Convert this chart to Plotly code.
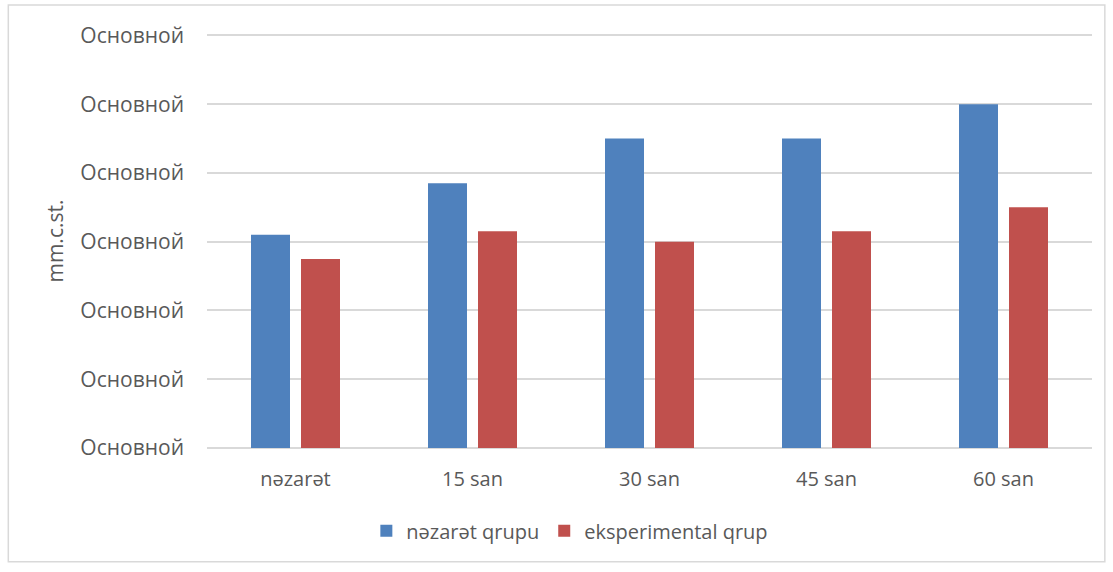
import plotly.graph_objects as go

categories = ["nəzarət", "15 san", "30 san", "45 san", "60 san"]
control_group = [62, 77, 90, 90, 100]
experimental_group = [55, 63, 60, 63, 70]
tick_values = [0, 20, 40, 60, 80, 100, 120]
tick_labels = ["Основной"] * len(tick_values)

font_family = "Open Sans, Noto Sans, sans-serif"
text_color = "#595959"

fig = go.Figure()
fig.add_trace(go.Bar(name="nəzarət qrupu", x=categories, y=control_group,
                     marker=dict(color="#4F81BD", line=dict(width=0))))
fig.add_trace(go.Bar(name="eksperimental qrup", x=categories, y=experimental_group,
                     marker=dict(color="#C0504D", line=dict(width=0))))

fig.update_layout(
    width=1113, height=572,
    margin=dict(l=207, r=21, t=34, b=124, autoexpand=False),
    paper_bgcolor="white", plot_bgcolor="white",
    barmode="group", bargap=0.435, bargroupgap=0.22,
    font=dict(family=font_family, size=20, color=text_color),
    showlegend=True,
    legend=dict(orientation="h", x=0.41, xanchor="center",
                y=-0.2, yanchor="middle",
                font=dict(size=20, color=text_color), traceorder="normal"),
    xaxis=dict(showline=False, ticks="", showgrid=False, tickfont=dict(size=20),
               ticklabelstandoff=17, tickangle=0),
    yaxis=dict(range=[0, 120.4], tickvals=tick_values, ticktext=tick_labels,
               showgrid=True, gridcolor="#D9D9D9", gridwidth=1.5,
               zeroline=True, zerolinecolor="#D9D9D9", zerolinewidth=1.5,
               showline=False, ticks="", ticklabelstandoff=22,
               tickfont=dict(size=21),
               title=dict(text="mm.c.st.", font=dict(size=21, color=text_color), standoff=10)),
    shapes=[dict(type="rect", xref="paper", yref="paper",
                 x0=-0.2245, x1=1.0145, y0=-0.275, y1=1.07,
                 line=dict(color="#D9D9D9", width=1.5))],
)

fig.write_html("out.html")
